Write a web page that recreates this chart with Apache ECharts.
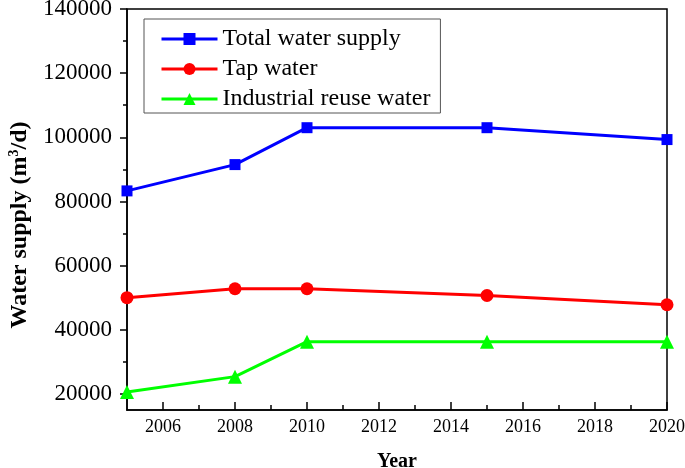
<!DOCTYPE html>
<html>
<head>
    <meta charset="utf-8">
    <title>Water supply</title>
    <style type="text/css">
        html, body { margin: 0; padding: 0; background: #fff; }
        #main { width: 685px; height: 468px; }
    </style>
</head>
<body>
    <div id="main"></div>
</body>
<script src="https://cdn.jsdelivr.net/npm/echarts@6/dist/echarts.min.js"></script>
<script type="text/javascript">
    // data
    var years = [2005, 2008, 2010, 2015, 2020];
    var totalSupply = [83300, 91500, 103000, 103000, 99300];
    var tapWater = [50000, 52800, 52800, 50700, 47800];
    var reuseWater = [20600, 25400, 36300, 36300, 36300];

    var xMajor = [2006, 2008, 2010, 2012, 2014, 2016, 2018, 2020];
    var xMinor = [2007, 2009, 2011, 2013, 2015, 2017, 2019];
    var yMajor = [20000, 40000, 60000, 80000, 100000, 120000, 140000];
    var yMinor = [30000, 50000, 70000, 90000, 110000, 130000];

    var font = "'Liberation Serif', 'Times New Roman', serif";

    function pairs(xs, ys) {
        var out = [];
        for (var i = 0; i < xs.length; i++) {
            out.push([xs[i], ys[i]]);
        }
        return out;
    }

    function plain(v) {
        return String(v);
    }

    function lineSeries(name, values, color, symbol, size) {
        return {
            name: name,
            type: 'line',
            data: pairs(years, values),
            symbol: symbol,
            symbolSize: size,
            clip: false,
            color: color,
            lineStyle: { color: color, width: 3 },
            itemStyle: { color: color },
            emphasis: { disabled: true }
        };
    }

    var chart = echarts.init(document.getElementById('main'));
    var option = {
        backgroundColor: '#FFFFFF',
        animation: false,
        textStyle: { fontFamily: font },
        grid: {
            left: 127, right: 18, top: 9, bottom: 58,
            outerBoundsMode: 'none',
            containLabel: false,
            show: true,
            borderColor: '#000',
            borderWidth: 1.5
        },
        legend: {
            left: 144,
            top: 19,
            orient: 'vertical',
            backgroundColor: '#fff',
            borderColor: '#555',
            borderWidth: 1,
            borderRadius: 0,
            padding: [8, 10, 2, 16],
            itemWidth: 56,
            itemHeight: 15,
            itemGap: 6,
            lineStyle: { width: 3 },
            textStyle: { fontFamily: font, fontSize: 24, color: '#000', lineHeight: 24 },
            data: ['Total water supply', 'Tap water', 'Industrial reuse water']
        },
        xAxis: [{
            type: 'value',
            min: 2005,
            max: 2020,
            name: 'Year',
            nameLocation: 'middle',
            nameGap: 42,
            nameTextStyle: { fontFamily: font, fontSize: 20, fontWeight: 'bold', color: '#000' },
            axisLine: { onZero: false, lineStyle: { color: '#000', width: 1.5 } },
            axisTick: { inside: true, length: 8, customValues: xMajor, lineStyle: { color: '#000', width: 1.5 } },
            axisLabel: { customValues: xMajor, formatter: plain, margin: 8, fontFamily: font, fontSize: 18, color: '#000' },
            splitLine: { show: false }
        }, {
            // minor ticks
            type: 'value',
            min: 2005,
            max: 2020,
            position: 'bottom',
            axisLine: { show: false },
            axisTick: { inside: true, length: 5, customValues: xMinor, lineStyle: { color: '#000', width: 1.5 } },
            axisLabel: { show: false },
            splitLine: { show: false }
        }],
        yAxis: [{
            type: 'value',
            min: 15000,
            max: 140000,
            name: '{b|Water supply (m}{s|3}{b|/d)}',
            nameLocation: 'middle',
            nameGap: 90,
            nameTextStyle: {
                color: '#000',
                padding: [0, 31, 0, 0],
                rich: {
                    b: { fontFamily: font, fontSize: 24, fontWeight: 'bold', color: '#000', lineHeight: 26 },
                    s: { fontFamily: font, fontSize: 14, fontWeight: 'bold', color: '#000', verticalAlign: 'top', lineHeight: 26 }
                }
            },
            axisLine: { onZero: false, lineStyle: { color: '#000', width: 1.5 } },
            axisTick: { length: 7, customValues: yMajor, lineStyle: { color: '#000', width: 1.5 } },
            axisLabel: { customValues: yMajor, formatter: plain, margin: 15, fontFamily: font, fontSize: 23, color: '#000' },
            splitLine: { show: false }
        }, {
            type: 'value',
            min: 15000,
            max: 140000,
            position: 'left',
            axisLine: { show: false },
            axisTick: { show: true, length: 4, customValues: yMinor, lineStyle: { color: '#000', width: 1.5 } },
            axisLabel: { show: false },
            splitLine: { show: false }
        }],
        series: [
            lineSeries('Total water supply', totalSupply, '#0000FF', 'rect', 11),
            lineSeries('Tap water', tapWater, '#FF0000', 'circle', 13),
            lineSeries('Industrial reuse water', reuseWater, '#00FF00', 'triangle', 14)
        ]
    };
    chart.setOption(option);
</script>
</html>
